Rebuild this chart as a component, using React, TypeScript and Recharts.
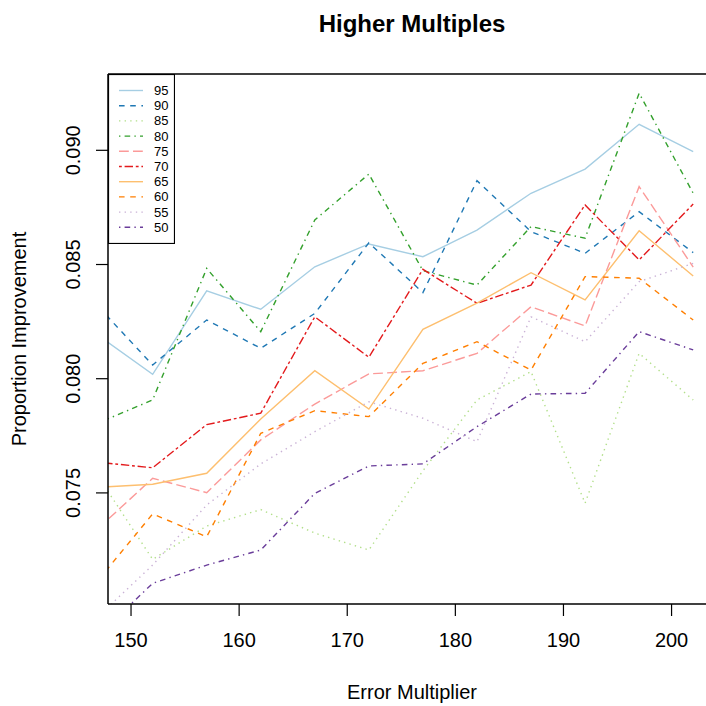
import { LineChart, Line, XAxis, YAxis, Legend } from 'recharts';

// x: error multiplier, one value per run
const multipliers = [147, 152, 157, 162, 167, 172, 177, 182, 187, 192, 197, 202];
const xTicks = [150, 160, 170, 180, 190, 200];
const yTicks = [0.075, 0.08, 0.085, 0.09];

// proportion improvement, one array per higher multiple
const m95 = [0.08188, 0.08019, 0.08385, 0.08304, 0.0849, 0.0859, 0.08534, 0.08651, 0.08812, 0.08918, 0.09114, 0.08994];
const m90 = [0.08314, 0.0806, 0.08257, 0.08133, 0.08286, 0.08595, 0.08377, 0.08867, 0.08644, 0.08549, 0.08731, 0.08552];
const m85 = [0.07569, 0.07209, 0.07355, 0.07427, 0.07324, 0.0725, 0.07597, 0.07907, 0.08031, 0.07455, 0.08111, 0.07907];
const m80 = [0.07807, 0.07907, 0.08483, 0.08206, 0.08695, 0.08896, 0.08473, 0.0841, 0.08666, 0.08615, 0.0925, 0.08812];
const m75 = [0.07346, 0.07564, 0.07501, 0.07732, 0.07889, 0.08021, 0.08035, 0.08111, 0.08315, 0.08231, 0.08841, 0.08489];
const m70 = [0.07634, 0.0761, 0.07799, 0.07849, 0.08271, 0.08094, 0.08479, 0.0833, 0.0841, 0.08761, 0.0852, 0.08765];
const m65 = [0.07525, 0.07538, 0.07586, 0.07824, 0.08035, 0.07867, 0.08216, 0.08331, 0.08464, 0.08345, 0.08648, 0.0845];
const m60 = [0.0712, 0.07408, 0.07308, 0.07761, 0.0786, 0.07834, 0.08067, 0.08162, 0.08038, 0.08447, 0.0844, 0.08257];
const m55 = [0.06961, 0.07184, 0.07447, 0.07627, 0.07768, 0.07899, 0.07827, 0.07724, 0.08271, 0.08162, 0.08425, 0.08505];
const m50 = [0.06878, 0.07104, 0.07184, 0.0725, 0.07498, 0.07618, 0.07627, 0.0779, 0.07933, 0.07936, 0.08206, 0.08126];

// R line types
const SOLID = undefined;
const DASHED = '5.6 5.6';
const DOTTED = '1.4 4.2';
const DOTDASH = '1.4 4.2 5.6 4.2';
const LONGDASH = '9.8 4.2';
const TWODASH = '2.8 2.8 8.4 2.8';

const SERIES = [
  { key: 'm95', name: '95', values: m95, color: '#A6CEE3', dash: SOLID },
  { key: 'm90', name: '90', values: m90, color: '#1F78B4', dash: DASHED },
  { key: 'm85', name: '85', values: m85, color: '#B2DF8A', dash: DOTTED },
  { key: 'm80', name: '80', values: m80, color: '#33A02C', dash: DOTDASH },
  { key: 'm75', name: '75', values: m75, color: '#FB9A99', dash: LONGDASH },
  { key: 'm70', name: '70', values: m70, color: '#E31A1C', dash: TWODASH },
  { key: 'm65', name: '65', values: m65, color: '#FDBF6F', dash: SOLID },
  { key: 'm60', name: '60', values: m60, color: '#FF7F00', dash: DASHED },
  { key: 'm55', name: '55', values: m55, color: '#CAB2D6', dash: DOTTED },
  { key: 'm50', name: '50', values: m50, color: '#6A3D9A', dash: DOTDASH },
];

const data = multipliers.map((x, i) => {
  const row: Record<string, number> = { x };
  SERIES.forEach((s) => {
    row[s.key] = s.values[i];
  });
  return row;
});

const FONT = '"Liberation Sans", Arial, Helvetica, sans-serif';

const XTick = ({ x, y, payload }: any) => (
  <text x={x} y={y + 31} textAnchor="middle" fontSize={20} fontFamily={FONT} fill="#000">
    {payload.value}
  </text>
);

const YTick = ({ x, y, payload }: any) => (
  <text
    x={x - 16}
    y={y}
    transform={`rotate(-90, ${x - 16}, ${y})`}
    textAnchor="middle"
    fontSize={20}
    fontFamily={FONT}
    fill="#000"
  >
    {payload.value.toFixed(3)}
  </text>
);

const LegendBox = () => (
  <svg width={67} height={170} style={{ display: 'block' }}>
    <rect x={0.5} y={0.5} width={66} height={169} fill="#fff" stroke="#000" strokeWidth={1.2} />
    {SERIES.map((s, i) => (
      <g key={s.key}>
        <line
          x1={11}
          x2={35}
          y1={16.5 + i * 15.2}
          y2={16.5 + i * 15.2}
          stroke={s.color}
          strokeWidth={1.4}
          strokeDasharray={s.dash}
        />
        <text x={46} y={16.5 + i * 15.2} dy="0.35em" fontSize={13} fontFamily={FONT} fill="#000">
          {s.name}
        </text>
      </g>
    ))}
  </svg>
);

export default function App() {
  return (
    <div style={{ position: 'fixed', left: 0, top: 0, width: 706, height: 706, overflow: 'hidden', background: '#fff' }}>
      <LineChart
        width={720}
        height={706}
        data={data}
        margin={{ top: 44, right: 4, bottom: 0, left: 0 }}
        style={{ fontFamily: FONT }}
      >
        <XAxis
          dataKey="x"
          type="number"
          domain={[147.87, 204.11]}
          allowDataOverflow
          ticks={xTicks}
          tick={<XTick />}
          tickSize={12}
          tickMargin={0}
          height={102}
          axisLine={{ stroke: '#000', strokeWidth: 1.5 }}
          tickLine={{ stroke: '#000', strokeWidth: 1.2 }}
          label={{
            content: ({ viewBox }: any) => (
              <text
                x={viewBox.x + viewBox.width / 2}
                y={viewBox.y + 95}
                textAnchor="middle"
                fontSize={20}
                fontFamily={FONT}
                fill="#000"
              >
                Error Multiplier
              </text>
            ),
          }}
        />
        <XAxis
          xAxisId="top"
          dataKey="x"
          type="number"
          orientation="top"
          domain={[147.87, 204.11]}
          allowDataOverflow
          tick={false}
          tickLine={false}
          height={30}
          axisLine={{ stroke: '#000', strokeWidth: 1.5 }}
          label={{
            content: ({ viewBox }: any) => (
              <text
                x={viewBox.x + viewBox.width / 2}
                y={viewBox.y - 12}
                textAnchor="middle"
                fontSize={24}
                fontWeight="bold"
                fontFamily={FONT}
                fill="#000"
              >
                Higher Multiples
              </text>
            ),
          }}
        />
        <YAxis
          type="number"
          domain={[0.070136, 0.093341]}
          allowDataOverflow
          ticks={yTicks}
          tick={<YTick />}
          tickSize={12}
          tickMargin={0}
          width={108}
          axisLine={{ stroke: '#000', strokeWidth: 1.5 }}
          tickLine={{ stroke: '#000', strokeWidth: 1.2 }}
          label={{
            content: ({ viewBox }: any) => {
              const cy = viewBox.y + viewBox.height / 2;
              return (
                <text
                  x={26}
                  y={cy}
                  transform={`rotate(-90, 26, ${cy})`}
                  textAnchor="middle"
                  fontSize={20}
                  fontFamily={FONT}
                  fill="#000"
                >
                  Proportion Improvement
                </text>
              );
            },
          }}
        />
        <Legend
          layout="vertical"
          align="center"
          verticalAlign="middle"
          content={<LegendBox />}
          wrapperStyle={{ left: 108, top: 74, width: 67, height: 170 }}
        />
        {SERIES.map((s) => (
          <Line
            key={s.key}
            dataKey={s.key}
            name={s.name}
            type="linear"
            stroke={s.color}
            strokeWidth={1.4}
            strokeDasharray={s.dash}
            dot={false}
            activeDot={false}
            isAnimationActive={false}
          />
        ))}
      </LineChart>
    </div>
  );
}
